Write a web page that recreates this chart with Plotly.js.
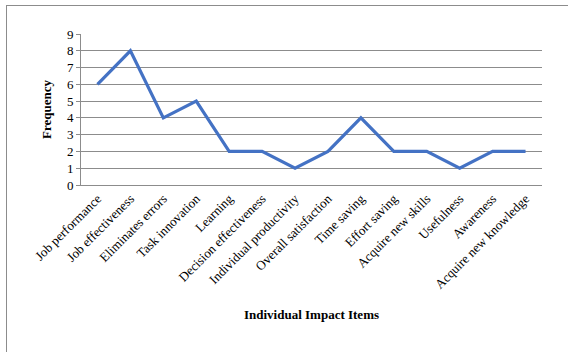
<!DOCTYPE html>
<html>
<head>
<meta charset="utf-8">
<script src="https://cdn.plot.ly/plotly-3.0.1.min.js"></script>
<style>
  html, body { margin: 0; padding: 0; background: #fff; }
  #wrap { position: relative; width: 568px; height: 352px; overflow: hidden; }
  #frame { position: absolute; left: 6px; top: 5px; width: 570px; height: 360px;
           border: 1px solid #8c8c8c; box-sizing: border-box; pointer-events: none; }
  #chart { position: absolute; left: 0; top: 0; width: 568px; height: 352px; }
</style>
</head>
<body>
<div id="wrap">
  <div id="chart"></div>
  <div id="frame"></div>
</div>
<script>
// Individual impact items and how often each was reported
const items = [
  "Job performance", "Job effectiveness", "Eliminates errors", "Task innovation",
  "Learning", "Decision effectiveness", "Individual productivity", "Overall satisfaction",
  "Time saving", "Effort saving", "Acquire new skills", "Usefulness",
  "Awareness", "Acquire new knowledge"
];
const frequency = [6, 8, 4, 5, 2, 2, 1, 2, 4, 2, 2, 1, 2, 2];
const yTicks = [0, 1, 2, 3, 4, 5, 6, 7, 8, 9];

const serif = "Liberation Serif, Times New Roman, serif";

const trace = {
  x: items,
  y: frequency,
  type: "scatter",
  mode: "lines",
  line: { color: "#4472C4", width: 3.2 },
  hoverinfo: "x+y"
};

const layout = {
  width: 568,
  height: 352,
  margin: { l: 81, r: 26, t: 34, b: 167 },
  paper_bgcolor: "rgba(0,0,0,0)",
  plot_bgcolor: "#fff",
  showlegend: false,
  font: { family: serif, color: "#000", size: 13 },
  xaxis: {
    type: "category",
    range: [-0.5, items.length - 0.5],
    tickangle: -45,
    tickfont: { family: serif, size: 13, color: "#000" },
    showgrid: false,
    showline: true,
    linecolor: "#8c8c8c",
    linewidth: 1,
    ticks: "",
    zeroline: false,
    title: {
      text: "<b>Individual Impact Items</b>",
      font: { family: serif, size: 13, color: "#000" },
      standoff: 19
    }
  },
  yaxis: {
    range: [0, 9],
    tickvals: yTicks,
    ticktext: yTicks.map(String),
    tickfont: { family: serif, size: 13, color: "#000" },
    showgrid: true,
    gridcolor: "#8c8c8c",
    gridwidth: 1,
    showline: true,
    linecolor: "#8c8c8c",
    ticks: "outside",
    ticklen: 4,
    tickcolor: "#8c8c8c",
    zeroline: false,
    title: {
      text: "<b>Frequency</b>",
      font: { family: serif, size: 13, color: "#000" },
      standoff: 12
    }
  }
};

Plotly.newPlot("chart", [trace], layout, { displayModeBar: false, staticPlot: true });
</script>
</body>
</html>
